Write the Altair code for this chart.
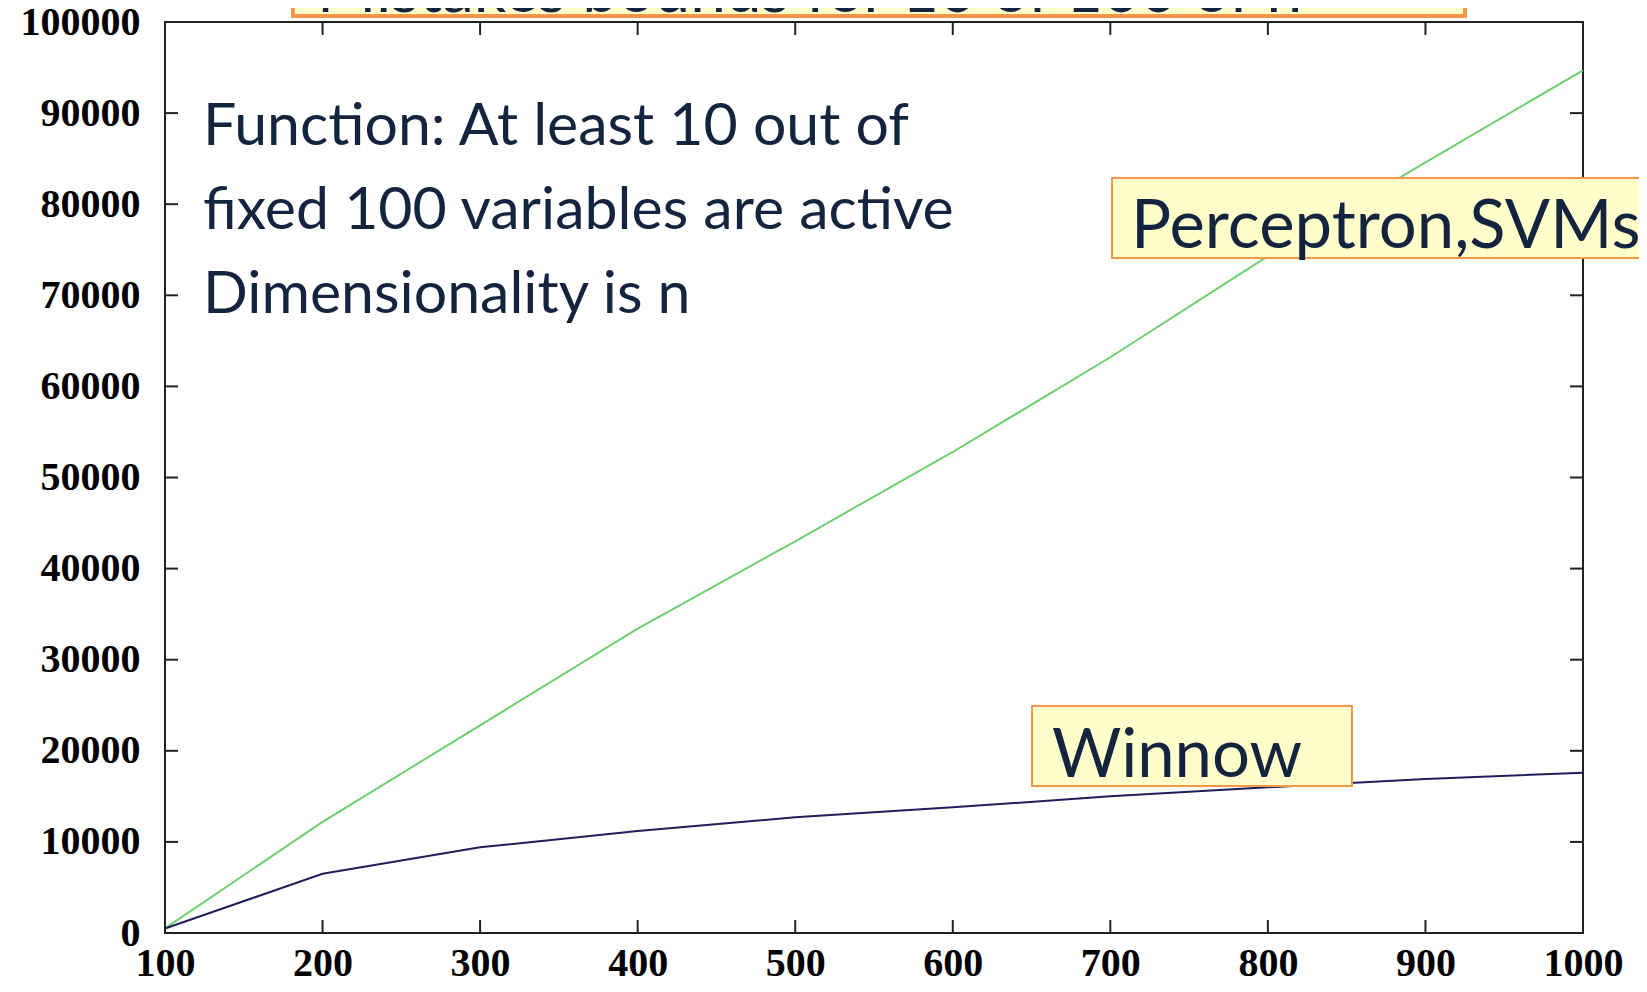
import altair as alt
import pandas as pd

# ---- data ----
n_values = [100, 200, 300, 400, 500, 600, 700, 800, 900, 1000]
perceptron_svm = [500, 12200, 22800, 33400, 43000, 52800, 63200, 74300, 84600, 94700]
winnow = [500, 6500, 9400, 11200, 12700, 13800, 15000, 16000, 16900, 17600]
series_names = ["Perceptron,SVMs", "Winnow"]
series_colors = ["#6fcf6f", "#1f1f5c"]
x_ticks = [100, 200, 300, 400, 500, 600, 700, 800, 900, 1000]
y_ticks = [0, 10000, 20000, 30000, 40000, 50000, 60000, 70000, 80000, 90000, 100000]

title_text = "Mistakes bounds for 10 of 100 of n"
note_lines = ["Function: At least 10 out of", "fixed 100 variables are active", "Dimensionality is n"]

W, H = 1418, 911
TICK = 13
TEXT_COLOR = "#14243f"
BOX_FILL = "#ffffcc"
BOX_STROKE = "#f79646"
SANS = "Lato"
SERIF = "Liberation Serif"

lines_df = pd.DataFrame(
    {
        "n": n_values * 2,
        "mistakes": perceptron_svm + winnow,
        "algorithm": [series_names[0]] * len(n_values) + [series_names[1]] * len(n_values),
    }
)
xt_df = pd.DataFrame({"n": x_ticks})
yt_df = pd.DataFrame({"mistakes": y_ticks})

x_scale = alt.Scale(domain=[100, 1000], nice=False, zero=False)
y_scale = alt.Scale(domain=[0, 100000], nice=False)

x_axis = alt.Axis(
    values=x_ticks, format="d", title=None, domain=False, ticks=False, tickSize=0,
    grid=False, labelFont=SERIF, labelFontSize=40, labelFontWeight="bold", labelColor="black",
    labelPadding=10, labelFlush=False, labelOverlap=False,
)
y_axis = alt.Axis(
    values=y_ticks, format="d", title=None, domain=False, ticks=False, tickSize=0,
    grid=False, labelFont=SERIF, labelFontSize=40, labelFontWeight="bold", labelColor="black",
    labelPadding=25, labelFlush=False, labelOverlap=False,
)

lines = (
    alt.Chart(lines_df)
    .mark_line(strokeWidth=2)
    .encode(
        x=alt.X("n:Q", scale=x_scale, axis=x_axis),
        y=alt.Y("mistakes:Q", scale=y_scale, axis=y_axis),
        color=alt.Color(
            "algorithm:N",
            scale=alt.Scale(domain=series_names, range=series_colors),
            legend=None,
        ),
    )
)

tick_style = dict(color="#222222", strokeWidth=2)
x_ticks_bottom = alt.Chart(xt_df).mark_rule(**tick_style).encode(
    x=alt.X("n:Q", scale=x_scale, axis=x_axis), y=alt.value(H), y2=alt.value(H - TICK)
)
x_ticks_top = alt.Chart(xt_df).mark_rule(**tick_style).encode(
    x=alt.X("n:Q", scale=x_scale, axis=x_axis), y=alt.value(0), y2=alt.value(TICK)
)
y_ticks_left = alt.Chart(yt_df).mark_rule(**tick_style).encode(
    y=alt.Y("mistakes:Q", scale=y_scale, axis=y_axis), x=alt.value(0), x2=alt.value(TICK)
)
y_ticks_right = alt.Chart(yt_df).mark_rule(**tick_style).encode(
    y=alt.Y("mistakes:Q", scale=y_scale, axis=y_axis), x=alt.value(W - TICK), x2=alt.value(W)
)


def box(x1, x2, y1, y2, sw=2):
    return alt.Chart(pd.DataFrame({"k": [0]})).mark_rect(
        fill=BOX_FILL, stroke=BOX_STROKE, strokeWidth=sw
    ).encode(x=alt.value(x1), x2=alt.value(x2), y=alt.value(y1), y2=alt.value(y2))


def label(text, x, y, size):
    return alt.Chart(pd.DataFrame({"t": [text]})).mark_text(
        align="left", baseline="alphabetic", font=SANS, fontSize=size, color=TEXT_COLOR
    ).encode(text="t:N", x=alt.value(x), y=alt.value(y))


title_box = box(128, 1300, -70, -6, sw=4)
title_label = label(title_text, 152, -10, 64)

notes = [label(t, 38, 123 + 84 * i, 59) for i, t in enumerate(note_lines)]

perc_box = box(947, 1600, 156, 236)
perc_label = label(series_names[0], 966, 226, 67)
win_box = box(867, 1187, 684, 764)
win_label = label(series_names[1], 887, 755, 67)

chart = (
    alt.layer(
        lines,
        x_ticks_bottom, x_ticks_top, y_ticks_left, y_ticks_right,
        title_box, title_label,
        *notes,
        perc_box, perc_label, win_box, win_label,
    )
    .properties(
        width=W,
        height=H,
        autosize=alt.AutoSizeParams(type="none"),
        padding={"left": 157, "top": 14, "right": 56, "bottom": 51},
        background="white",
    )
    .configure_view(stroke="#222222", strokeWidth=2)
)

chart.save("out.html", embed_options={"renderer": "svg", "actions": False})
